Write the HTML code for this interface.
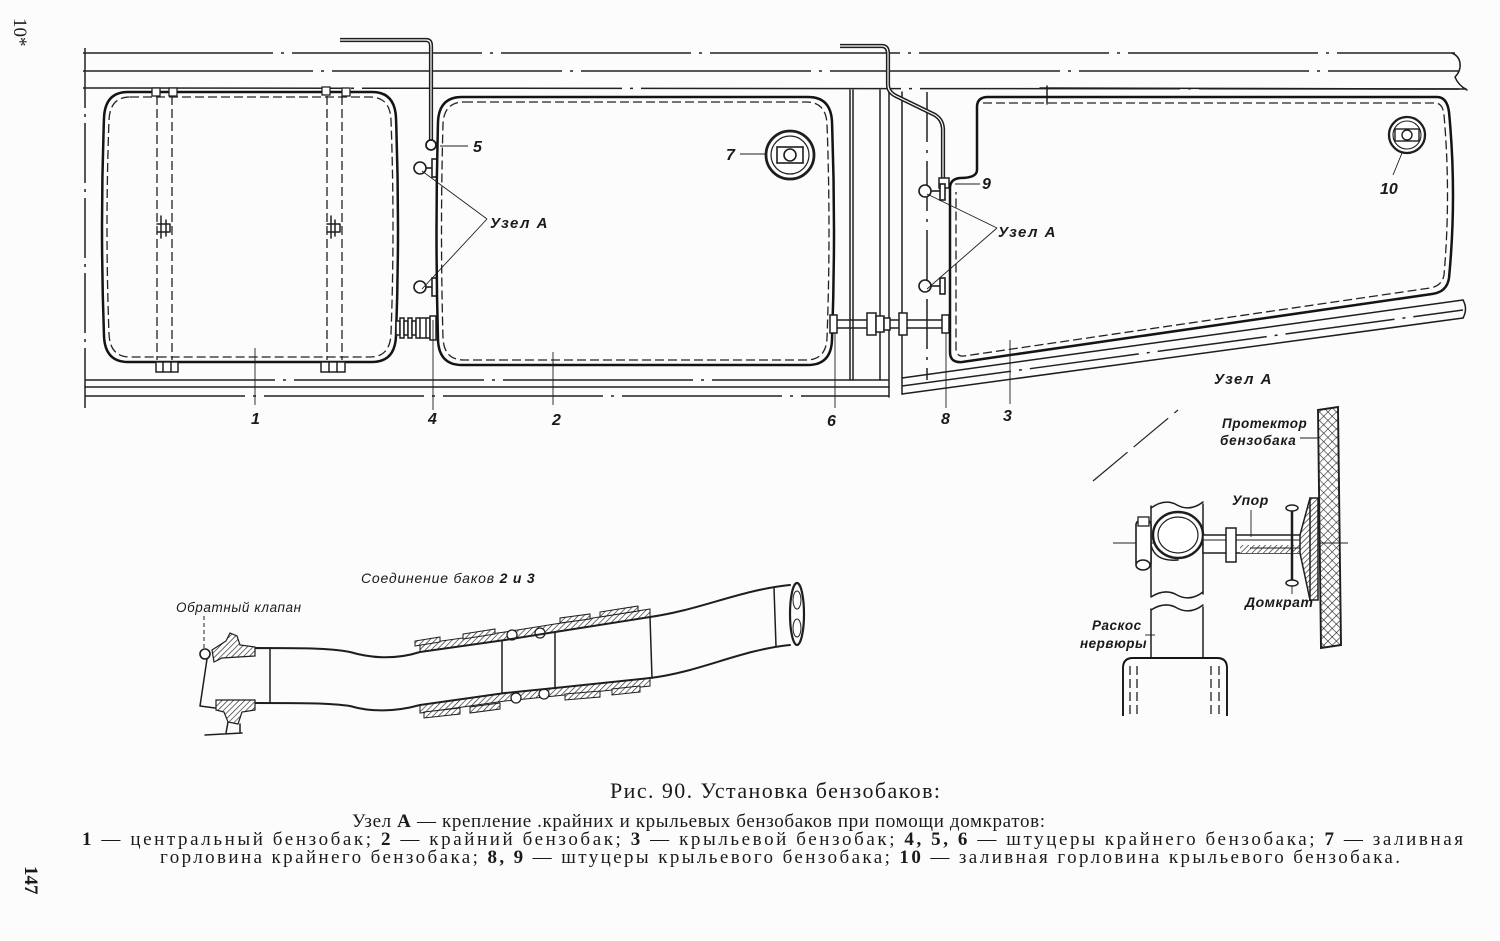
<!DOCTYPE html>
<html><head><meta charset="utf-8">
<style>
html,body{margin:0;padding:0;background:#fcfcfc;}
svg{display:block}
.l{fill:none;stroke:#1e1e1e;stroke-width:1.5;stroke-linecap:round;stroke-linejoin:round}
.th{fill:none;stroke:#1e1e1e;stroke-width:0.9}
.t{fill:none;stroke:#141414;stroke-width:2.5;stroke-linejoin:round}
.d{fill:none;stroke:#222;stroke-width:1.3;stroke-dasharray:9 4}
.dd{fill:none;stroke:#222;stroke-width:1.5;stroke-dasharray:190 8 3 8}
.lab{font-family:"Liberation Sans",sans-serif;font-style:italic;font-weight:bold;fill:#1a1a1a}
.cap{font-family:"Liberation Serif",serif;fill:#1a1a1a}
</style></head><body>
<svg width="1500" height="941" viewBox="0 0 1500 941" xmlns="http://www.w3.org/2000/svg">
<defs>
<pattern id="h" width="4" height="4" patternUnits="userSpaceOnUse" patternTransform="rotate(45)">
<rect width="4" height="4" fill="#fff"/><line x1="0" y1="0" x2="0" y2="4" stroke="#222" stroke-width="1.3"/>
</pattern>
<pattern id="x" width="6" height="6" patternUnits="userSpaceOnUse" patternTransform="rotate(45)">
<rect width="6" height="6" fill="#fff"/><line x1="0" y1="0" x2="0" y2="6" stroke="#222" stroke-width="1.2"/><line x1="0" y1="0" x2="6" y2="0" stroke="#222" stroke-width="1.2"/>
</pattern>
</defs>

<!-- side page marks -->
<text class="cap" font-size="19" transform="translate(14,18) rotate(90)">10*</text>
<text class="cap" font-size="19" font-weight="bold" transform="translate(25,866) rotate(90)">147</text>

<!-- frame top -->
<line class="dd" x1="85" y1="48" x2="85" y2="408" style="stroke-dasharray:60 6 3 6"/>
<line class="dd" x1="83" y1="53" x2="1455" y2="53"/>
<line class="dd" x1="83" y1="71" x2="1459" y2="71" style="stroke-dasharray:230 8 3 8"/>
<line class="dd" x1="83" y1="88" x2="1466" y2="89" style="stroke-dasharray:260 8 3 8"/>
<path class="l" d="M1452,53 Q1459,56 1460,63 Q1461,71 1455,77 Q1458,85 1467,90"/>
<line class="l" x1="1040" y1="88" x2="1466" y2="89"/>

<!-- frame bottom left -->
<line class="dd" x1="85" y1="380" x2="889" y2="380"/>
<line class="l" x1="85" y1="387" x2="889" y2="387"/>
<line class="dd" x1="85" y1="396" x2="889" y2="396" style="stroke-dasharray:160 8 3 8"/>
<!-- vertical frame between tanks 2 & 3 -->
<line class="l" x1="850" y1="90" x2="850" y2="380"/>
<line class="l" x1="853" y1="90" x2="853" y2="380"/>
<line class="l" x1="880" y1="90" x2="880" y2="380"/>
<line class="l" x1="889" y1="90" x2="889" y2="397"/>
<line class="l" x1="902" y1="92" x2="902" y2="394"/>
<line class="dd" x1="927" y1="92" x2="927" y2="380" style="stroke-dasharray:50 8 3 8"/>
<!-- wing lines -->
<line class="l" x1="902" y1="378" x2="1463" y2="300"/>
<line class="dd" x1="902" y1="386" x2="1463" y2="310" style="stroke-dasharray:110 8 3 8"/>
<line class="l" x1="902" y1="394" x2="1463" y2="318"/>
<path class="l" d="M1463,300 Q1468,309 1463,318"/>
<line class="l" x1="1047" y1="86" x2="1047" y2="104"/>

<!-- TANK 1 -->
<path class="t" d="M128,92 H372 Q395,92 396,118 Q400,227 396,336 Q395,362 372,362 H128 Q105,362 104,336 Q100,227 104,118 Q105,92 128,92 Z"/>
<path class="d" d="M130,97 H370 Q390,97 391,120 Q395,227 391,334 Q390,357 370,357 H130 Q110,357 109,334 Q105,227 109,120 Q110,97 130,97 Z"/>
<line class="d" x1="157" y1="96" x2="157" y2="360"/>
<line class="d" x1="172" y1="96" x2="172" y2="360"/>
<line class="d" x1="327" y1="96" x2="327" y2="360"/>
<line class="d" x1="342" y1="96" x2="342" y2="360"/>
<rect x="152" y="88" width="8" height="8" fill="#fff" stroke="#222" stroke-width="1.3"/>
<rect x="169" y="88" width="8" height="8" fill="#fff" stroke="#222" stroke-width="1.3"/>
<rect x="322" y="87" width="8" height="8" fill="#fff" stroke="#222" stroke-width="1.3"/>
<rect x="342" y="88" width="8" height="8" fill="#fff" stroke="#222" stroke-width="1.3"/>
<rect x="156" y="362" width="22" height="10" fill="#fff" stroke="#222" stroke-width="1.5"/>
<line class="l" x1="163" y1="362" x2="163" y2="372"/><line class="l" x1="171" y1="362" x2="171" y2="372"/>
<rect x="321" y="362" width="24" height="10" fill="#fff" stroke="#222" stroke-width="1.5"/>
<line class="l" x1="329" y1="362" x2="329" y2="372"/><line class="l" x1="337" y1="362" x2="337" y2="372"/>
<path class="l" d="M161,216 V238 M157,224 H170 V232 H157 M166,220 V236"/>
<path class="l" d="M331,216 V238 M327,224 H340 V232 H327 M335,220 V236"/>
<line class="th" x1="255" y1="348" x2="255" y2="405"/>

<!-- pipe from top (5) -->
<path d="M340,40 H426 Q431,40 431,46 V140" fill="none" stroke="#1e1e1e" stroke-width="4.2"/>
<path d="M340,40 H426 Q431,40 431,46 V140" fill="none" stroke="#fff" stroke-width="1.2"/>
<circle cx="431" cy="145" r="5" fill="#fff" stroke="#1e1e1e" stroke-width="1.8"/>
<line class="th" x1="440" y1="146" x2="468" y2="146"/>

<!-- bellows connector 1-2 -->
<g fill="#fff" stroke="#1e1e1e" stroke-width="1.5">
<rect x="396" y="321" width="4" height="14"/><rect x="400" y="318" width="4" height="20"/>
<rect x="404" y="321" width="4" height="14"/><rect x="408" y="318" width="4" height="20"/>
<rect x="412" y="321" width="4" height="14"/>
<rect x="416" y="318" width="14" height="20"/>
<rect x="430" y="316" width="6" height="24"/>
</g>
<line class="l" x1="420" y1="318" x2="420" y2="338"/><line class="l" x1="426" y1="318" x2="426" y2="338"/>

<!-- jacks tank 2 -->
<g stroke="#1e1e1e" stroke-width="1.6" fill="#fff">
<circle cx="420" cy="168" r="6"/><line x1="426" y1="168" x2="432" y2="168"/><rect x="432" y="159" width="5" height="18"/>
<circle cx="420" cy="287" r="6"/><line x1="426" y1="287" x2="432" y2="287"/><rect x="432" y="278" width="5" height="18"/>
</g>
<line class="th" x1="422" y1="171" x2="487" y2="219"/>
<line class="th" x1="422" y1="289" x2="487" y2="219"/>
<line class="th" x1="433" y1="320" x2="433" y2="410"/>

<!-- TANK 2 -->
<path class="t" d="M462,97 H808 Q831,97 832,122 Q836,231 832,340 Q831,365 808,365 H462 Q439,365 438,340 Q435,231 438,122 Q439,97 462,97 Z"/>
<path class="d" d="M464,102 H806 Q826,102 827,124 Q831,231 827,338 Q826,360 806,360 H464 Q444,360 443,338 Q440,231 443,124 Q444,102 464,102 Z"/>
<!-- filler 7 -->
<circle cx="790" cy="155" r="24" fill="#fff" stroke="#1e1e1e" stroke-width="2.8"/>
<circle cx="790" cy="155" r="19" fill="none" stroke="#1e1e1e" stroke-width="1.2"/>
<rect x="777" y="147" width="26" height="16" fill="none" stroke="#1e1e1e" stroke-width="1.6"/>
<circle cx="790" cy="155" r="6" fill="#fff" stroke="#1e1e1e" stroke-width="1.6"/>
<line class="th" x1="740" y1="154" x2="766" y2="154"/>
<line class="th" x1="553" y1="352" x2="553" y2="405"/>

<!-- pipe 2-3 (6-8) -->
<line class="l" x1="833" y1="320" x2="948" y2="320"/>
<line class="l" x1="833" y1="328" x2="948" y2="328"/>
<g fill="#fff" stroke="#1e1e1e" stroke-width="1.5">
<rect x="830" y="315" width="7" height="18"/>
<rect x="867" y="313" width="9" height="22"/>
<rect x="876" y="316" width="8" height="16"/>
<rect x="884" y="318" width="6" height="12"/>
<rect x="899" y="313" width="8" height="22"/>
<rect x="942" y="315" width="7" height="18"/>
</g>
<line class="th" x1="835" y1="333" x2="835" y2="408"/>
<line class="th" x1="946" y1="333" x2="946" y2="408"/>

<!-- pipe 9 -->
<path d="M840,46 H882 Q888,46 888,54 V85 Q888,92 896,96 L935,115 Q943,120 943,130 V180" fill="none" stroke="#1e1e1e" stroke-width="4.2"/>
<path d="M840,46 H882 Q888,46 888,54 V85 Q888,92 896,96 L935,115 Q943,120 943,130 V180" fill="none" stroke="#fff" stroke-width="1.2"/>
<rect x="939" y="178" width="10" height="10" fill="#fff" stroke="#1e1e1e" stroke-width="1.5"/>
<line class="th" x1="955" y1="184" x2="980" y2="184"/>

<!-- jacks tank 3 -->
<g stroke="#1e1e1e" stroke-width="1.6" fill="#fff">
<circle cx="925" cy="191" r="6"/><line x1="931" y1="191" x2="940" y2="191"/><rect x="940" y="184" width="5" height="16"/>
<circle cx="925" cy="286" r="6"/><line x1="931" y1="286" x2="940" y2="286"/><rect x="940" y="278" width="5" height="16"/>
</g>
<line class="th" x1="927" y1="194" x2="997" y2="228"/>
<line class="th" x1="927" y1="289" x2="997" y2="228"/>

<!-- TANK 3 -->
<path class="t" d="M977,170 V107 Q977,97 988,97 H1437 Q1447,97 1449,112 Q1457,195 1449,278 Q1447,292 1432,294 L962,362 Q950,363 950,352 V188 Q950,179 960,178 Q977,178 977,170 Z"/>
<path class="d" d="M983,103 H1436 Q1443,104 1444,115 Q1451,195 1444,275 Q1442,286 1430,288 L964,356 Q956,357 956,348 V192"/>
<circle cx="1407" cy="135" r="18" fill="#fff" stroke="#1e1e1e" stroke-width="2.3"/>
<circle cx="1407" cy="135" r="14" fill="none" stroke="#1e1e1e" stroke-width="1.1"/>
<rect x="1395" y="129" width="24" height="12" fill="none" stroke="#1e1e1e" stroke-width="1.4"/>
<circle cx="1407" cy="135" r="5" fill="#fff" stroke="#1e1e1e" stroke-width="1.4"/>
<line class="th" x1="1402" y1="153" x2="1393" y2="175"/>
<line class="th" x1="1010" y1="340" x2="1010" y2="404"/>

<!-- labels on top drawing -->
<text class="lab" x="473" y="152" font-size="16">5</text>
<text class="lab" x="726" y="160" font-size="16">7</text>
<text class="lab" x="490" y="228" font-size="15" letter-spacing="1.5">Узел А</text>
<text class="lab" x="982" y="189" font-size="16">9</text>
<text class="lab" x="1380" y="194" font-size="16">10</text>
<text class="lab" x="998" y="237" font-size="15" letter-spacing="1.5">Узел А</text>
<text class="lab" x="1214" y="384" font-size="15" letter-spacing="1.5">Узел А</text>
<text class="lab" x="251" y="424" font-size="16">1</text>
<text class="lab" x="428" y="424" font-size="16">4</text>
<text class="lab" x="552" y="425" font-size="16">2</text>
<text class="lab" x="827" y="426" font-size="16">6</text>
<text class="lab" x="941" y="424" font-size="16">8</text>
<text class="lab" x="1003" y="421" font-size="16">3</text>

<!-- UZEL A DETAIL -->
<line x1="1093" y1="481" x2="1178" y2="410" stroke="#222" stroke-width="1.2" stroke-dasharray="45 8"/>
<polygon points="1318,410 1338,407 1341,645 1321,648" fill="url(#x)" stroke="#1e1e1e" stroke-width="1.9"/>
<line class="th" x1="1300" y1="438" x2="1319" y2="438"/>
<text class="lab" x="1222" y="428" font-size="13.5" letter-spacing="0.5">Протектор</text>
<text class="lab" x="1220" y="445" font-size="13.5" letter-spacing="0.8">бензобака</text>
<line x1="1113" y1="543" x2="1348" y2="543" stroke="#222" stroke-width="1"/>
<!-- vertical tube -->
<line class="l" x1="1151" y1="506" x2="1151" y2="596"/>
<line class="l" x1="1203" y1="504" x2="1203" y2="594"/>
<line class="l" x1="1151" y1="609" x2="1151" y2="657"/>
<line class="l" x1="1203" y1="607" x2="1203" y2="657"/>
<path class="l" d="M1151,508 Q1165,498 1177,505 Q1190,512 1203,502"/>
<path class="l" d="M1151,597 Q1165,588 1177,595 Q1190,602 1203,592"/>
<path class="l" d="M1151,610 Q1165,601 1177,608 Q1190,615 1203,605"/>
<ellipse cx="1178" cy="535" rx="25" ry="23" fill="#fff" stroke="#1e1e1e" stroke-width="2.5"/>
<ellipse cx="1178" cy="535" rx="20" ry="18" fill="none" stroke="#1e1e1e" stroke-width="1.2"/>
<path class="l" d="M1151,545 Q1155,562 1178,560"/>
<!-- clamp -->
<rect x="1136" y="520" width="15" height="48" rx="5" fill="#fff" stroke="#1e1e1e" stroke-width="1.6"/>
<rect x="1138" y="517" width="11" height="9" fill="#fff" stroke="#1e1e1e" stroke-width="1.3"/>
<ellipse cx="1143" cy="565" rx="7" ry="5" fill="#fff" stroke="#1e1e1e" stroke-width="1.6"/>
<!-- rod -->
<rect x="1203" y="535" width="100" height="18" fill="#fff" stroke="#1e1e1e" stroke-width="1.5"/>
<line class="th" x1="1203" y1="540" x2="1303" y2="540"/>
<rect x="1240" y="545" width="62" height="8" fill="url(#h)" stroke="none"/>
<line class="th" x1="1250" y1="548" x2="1303" y2="548"/>
<rect x="1226" y="528" width="10" height="34" fill="#fff" stroke="#1e1e1e" stroke-width="1.5"/>
<line class="th" x1="1251" y1="510" x2="1251" y2="537"/>
<!-- jack bolt -->
<line x1="1292" y1="508" x2="1292" y2="584" stroke="#1e1e1e" stroke-width="2.5"/>
<ellipse cx="1292" cy="508" rx="6" ry="3" fill="#fff" stroke="#1e1e1e" stroke-width="1.5"/>
<ellipse cx="1292" cy="583" rx="6" ry="3" fill="#fff" stroke="#1e1e1e" stroke-width="1.5"/>
<!-- cone & plate -->
<polygon points="1300,535 1310,498 1318,498 1318,600 1310,600 1300,553" fill="url(#h)" stroke="#1e1e1e" stroke-width="1.5"/>
<line class="l" x1="1310" y1="498" x2="1310" y2="600"/>
<text class="lab" x="1232" y="505" font-size="14" letter-spacing="0.5">Упор</text>
<text class="lab" x="1245" y="607" font-size="14" letter-spacing="0.5">Домкрат</text>
<line class="th" x1="1292" y1="586" x2="1292" y2="594"/>
<text class="lab" x="1092" y="630" font-size="13.5" letter-spacing="0.5">Раскос</text>
<text class="lab" x="1080" y="648" font-size="13.5" letter-spacing="0.5">нервюры</text>
<line class="th" x1="1145" y1="635" x2="1155" y2="635"/>
<!-- bracket -->
<path class="t" style="stroke-width:1.9" d="M1123,716 V668 Q1123,658 1133,658 H1217 Q1227,658 1227,668 V716"/>
<line class="d" x1="1130" y1="666" x2="1130" y2="714"/>
<line class="d" x1="1137" y1="666" x2="1137" y2="714"/>
<line class="d" x1="1211" y1="666" x2="1211" y2="714"/>
<line class="d" x1="1219" y1="666" x2="1219" y2="714"/>

<!-- CONNECTION DRAWING -->
<text class="lab" x="361" y="583" font-size="14" letter-spacing="0.8" style="font-weight:normal">Соединение  баков  <tspan font-weight="bold">2 и 3</tspan></text>
<text class="lab" x="176" y="612" font-size="13.5" letter-spacing="0.6" style="font-weight:normal">Обратный клапан</text>
<line x1="204" y1="616" x2="204" y2="648" stroke="#222" stroke-width="1" stroke-dasharray="4 3"/>
<!-- sleeves hatched -->
<polygon points="420,652 505,640 555,632 650,617 650,609 555,624 505,632 420,644" fill="url(#h)" stroke="#1e1e1e" stroke-width="1"/>
<polygon points="420,705 505,693 555,688 650,678 650,686 555,696 505,701 420,713" fill="url(#h)" stroke="#1e1e1e" stroke-width="1"/>
<g fill="url(#h)" stroke="#1e1e1e" stroke-width="1">
<polygon points="415,646 440,642 440,637 415,641"/>
<polygon points="463,639 495,634 495,629 463,634"/>
<polygon points="560,623 590,619 590,614 560,618"/>
<polygon points="600,617 638,611 638,606 600,612"/>
<polygon points="424,712 460,708 460,714 424,718"/>
<polygon points="470,707 500,703 500,709 470,713"/>
<polygon points="565,694 600,691 600,697 565,700"/>
<polygon points="612,689 640,686 640,692 612,695"/>
</g>
<g fill="#fff" stroke="#1e1e1e" stroke-width="1.3">
<circle cx="512" cy="635" r="5"/><circle cx="540" cy="633" r="5"/>
<circle cx="516" cy="698" r="5"/><circle cx="544" cy="694" r="5"/>
</g>
<path class="l" style="stroke-width:2" d="M213,652 L255,648 C300,648 330,648 350,652 C370,658 395,660 420,652 L505,640 L555,632 L650,617 C700,610 740,590 790,585"/>
<path class="l" style="stroke-width:2" d="M218,705 L255,703 C300,703 330,703 350,706 C370,712 395,712 420,705 L505,693 L555,688 L650,678 C700,672 740,650 790,645"/>
<line class="l" x1="270" y1="649" x2="270" y2="703"/>
<line class="l" x1="502" y1="641" x2="502" y2="693"/>
<line class="l" x1="555" y1="632" x2="555" y2="688"/>
<line class="l" x1="650" y1="617" x2="652" y2="678"/>
<line class="l" x1="774" y1="588" x2="776" y2="646"/>
<ellipse cx="797" cy="614" rx="7" ry="31" fill="#fff" stroke="#1e1e1e" stroke-width="2.2"/>
<ellipse cx="797" cy="600" rx="4" ry="9" fill="none" stroke="#1e1e1e" stroke-width="1"/>
<ellipse cx="797" cy="628" rx="4" ry="9" fill="none" stroke="#1e1e1e" stroke-width="1"/>
<!-- valve -->
<polygon points="212,650 226,641 230,633 237,636 240,645 255,647 255,656 222,658 214,662" fill="url(#h)" stroke="#1e1e1e" stroke-width="1.2"/>
<polygon points="216,700 255,700 255,710 242,712 238,724 228,722 224,712 216,710" fill="url(#h)" stroke="#1e1e1e" stroke-width="1.2"/>
<circle cx="205" cy="654" r="5" fill="#fff" stroke="#1e1e1e" stroke-width="1.6"/>
<path class="l" d="M207,659 L200,706 L215,708"/>
<path class="l" d="M228,722 L226,733 M240,724 L240,733 M205,735 L242,733"/>

<!-- CAPTION -->
<text class="cap" x="775" y="798" text-anchor="middle" font-size="22" textLength="330" lengthAdjust="spacing">Рис. 90. Установка бензобаков:</text>
<text class="cap" x="352" y="827" font-size="19" textLength="693" lengthAdjust="spacing">Узел  <tspan font-weight="bold">А</tspan> — крепление .крайних  и  крыльевых  бензобаков  при  помощи  домкратов:</text>
<text class="cap" x="82" y="845" font-size="19" textLength="1381" lengthAdjust="spacing"><tspan font-weight="bold">1</tspan> — центральный   бензобак;  <tspan font-weight="bold">2</tspan> — крайний  бензобак;  <tspan font-weight="bold">3</tspan> — крыльевой  бензобак;  <tspan font-weight="bold">4,  5,  6</tspan> — штуцеры   крайнего   бензобака;  <tspan font-weight="bold">7</tspan> — заливная</text>
<text class="cap" x="160" y="863" font-size="19" textLength="1240" lengthAdjust="spacing">горловина  крайнего  бензобака;  <tspan font-weight="bold">8,  9</tspan> — штуцеры  крыльевого  бензобака;  <tspan font-weight="bold">10</tspan> — заливная   горловина   крыльевого   бензобака.</text>
</svg>
</body></html>
